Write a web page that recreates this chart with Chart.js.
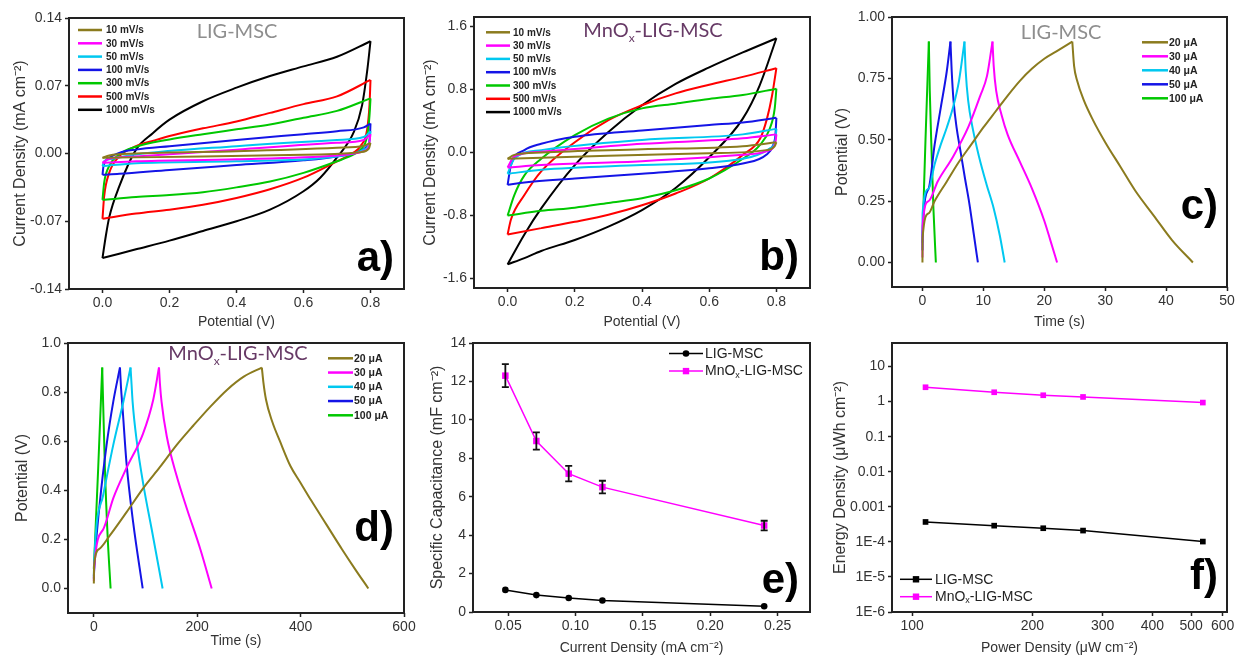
<!DOCTYPE html>
<html>
<head>
<meta charset="utf-8">
<script src="https://cdn.jsdelivr.net/npm/chart.js@4.4.0/dist/chart.umd.min.js"></script>
<style>
  html, body { margin: 0; padding: 0; background: #fff; }
  #wrap { position: relative; width: 1235px; height: 657px; overflow: hidden; }
  #wrap canvas { position: absolute; left: 0; top: 0; }
</style>
</head>
<body>
<div id="wrap">
  <canvas id="chartA" width="1235" height="657"></canvas>
  <canvas id="chartB" width="1235" height="657"></canvas>
  <canvas id="chartC" width="1235" height="657"></canvas>
  <canvas id="chartD" width="1235" height="657"></canvas>
  <canvas id="chartE" width="1235" height="657"></canvas>
  <canvas id="chartF" width="1235" height="657"></canvas>
</div>
<script>
// ---------------------------------------------------------------
// 1. Data
// ---------------------------------------------------------------
const scanRates = ['10 mV/s', '30 mV/s', '50 mV/s', '100 mV/s', '300 mV/s', '500 mV/s', '1000 mV/s'];
const gcdCurrents = ['20 μA', '30 μA', '40 μA', '50 μA', '100 μA'];
const seriesNames = ['LIG-MSC', 'MnO_x-LIG-MSC'];

// a) LIG-MSC CV loops: upper (anodic) and lower (cathodic) branch, [V, mA cm-2]
const ligCv10Up = [[0,-0.0045],[0.02,-0.002],[0.1,0],[0.4,0.0024],[0.7,0.006],[0.78,0.008],[0.8,0.011]];
const ligCv10Down = [[0,-0.0045],[0.3,-0.003],[0.6,-0.0014],[0.77,0.0014],[0.795,0.005],[0.8,0.011]];
const ligCv30Up = [[0,-0.0096],[0.02,-0.0055],[0.1,-0.003],[0.4,0.004],[0.7,0.011],[0.78,0.014],[0.8,0.02]];
const ligCv30Down = [[0,-0.0096],[0.1,-0.008],[0.4,-0.006],[0.7,-0.002],[0.78,0.0024],[0.795,0.008],[0.8,0.02]];
const ligCv50Up = [[0,-0.013],[0.005,-0.008],[0.02,-0.006],[0.1,-0.001],[0.4,0.0076],[0.7,0.014],[0.78,0.017],[0.8,0.023]];
const ligCv50Down = [[0,-0.013],[0.1,-0.01],[0.4,-0.008],[0.7,-0.003],[0.78,0.004],[0.795,0.01],[0.8,0.023]];
const ligCv100Up = [[0,-0.022],[0.003,-0.013],[0.02,-0.0045],[0.05,0.0007],[0.1,0.004],[0.2,0.0076],[0.4,0.014],[0.6,0.02],[0.7,0.023],[0.78,0.027],[0.8,0.031]];
const ligCv100Down = [[0,-0.022],[0.05,-0.021],[0.2,-0.017],[0.4,-0.012],[0.6,-0.007],[0.7,-0.003],[0.77,0.0024],[0.79,0.0076],[0.798,0.016],[0.8,0.031]];
const ligCv300Up = [[0,-0.048],[0.005,-0.03],[0.02,-0.013],[0.05,-0.001],[0.1,0.007],[0.2,0.0145],[0.3,0.02],[0.4,0.025],[0.5,0.03],[0.6,0.037],[0.7,0.044],[0.8,0.057]];
const ligCv300Down = [[0,-0.048],[0.1,-0.045],[0.2,-0.043],[0.3,-0.04],[0.4,-0.035],[0.5,-0.029],[0.6,-0.02],[0.7,-0.008],[0.75,-0.001],[0.77,0.004],[0.79,0.018],[0.797,0.039],[0.8,0.057]];
const ligCv500Up = [[0,-0.0674],[0.005,-0.044],[0.02,-0.02],[0.05,-0.003],[0.1,0.0076],[0.15,0.013],[0.2,0.018],[0.3,0.026],[0.4,0.033],[0.5,0.042],[0.6,0.051],[0.7,0.059],[0.8,0.076]];
const ligCv500Down = [[0,-0.0674],[0.1,-0.062],[0.2,-0.058],[0.3,-0.053],[0.4,-0.046],[0.5,-0.037],[0.6,-0.025],[0.7,-0.008],[0.75,0.001],[0.77,0.0076],[0.79,0.025],[0.797,0.05],[0.8,0.076]];
const ligCv1000Up = [[0,-0.108],[0.01,-0.085],[0.02,-0.066],[0.05,-0.034],[0.1,0.004],[0.15,0.021],[0.2,0.035],[0.3,0.054],[0.4,0.068],[0.5,0.08],[0.6,0.09],[0.7,0.1],[0.8,0.116]];
const ligCv1000Down = [[0,-0.108],[0.1,-0.099],[0.2,-0.09],[0.3,-0.08],[0.4,-0.07],[0.5,-0.058],[0.6,-0.039],[0.65,-0.025],[0.7,-0.004],[0.75,0.022],[0.775,0.05],[0.79,0.085],[0.8,0.116]];

// b) MnOx-LIG-MSC CV loops
const mnCv10Up = [[0,-0.08],[0.02,-0.03],[0.1,0],[0.4,0.04],[0.7,0.08],[0.8,0.13]];
const mnCv10Down = [[0,-0.08],[0.3,-0.04],[0.6,-0.01],[0.77,0.03],[0.795,0.08],[0.8,0.13]];
const mnCv30Up = [[0,-0.19],[0.02,-0.05],[0.1,0.01],[0.4,0.11],[0.7,0.18],[0.8,0.23]];
const mnCv30Down = [[0,-0.19],[0.1,-0.16],[0.4,-0.11],[0.7,-0.03],[0.78,0.03],[0.797,0.13],[0.8,0.23]];
const mnCv50Up = [[0,-0.27],[0.02,-0.08],[0.1,0.03],[0.4,0.16],[0.7,0.23],[0.8,0.3]];
const mnCv50Down = [[0,-0.27],[0.1,-0.22],[0.4,-0.16],[0.7,-0.08],[0.78,0.05],[0.797,0.16],[0.8,0.3]];
const mnCv100Up = [[0,-0.41],[0.01,-0.16],[0.05,0.03],[0.1,0.11],[0.2,0.2],[0.4,0.28],[0.6,0.35],[0.7,0.38],[0.8,0.44]];
const mnCv100Down = [[0,-0.41],[0.05,-0.38],[0.2,-0.33],[0.4,-0.27],[0.6,-0.2],[0.7,-0.14],[0.77,-0.03],[0.79,0.09],[0.797,0.22],[0.8,0.44]];
const mnCv300Up = [[0,-0.8],[0.02,-0.54],[0.05,-0.29],[0.1,-0.08],[0.2,0.22],[0.3,0.43],[0.4,0.56],[0.5,0.62],[0.6,0.68],[0.7,0.73],[0.8,0.81]];
const mnCv300Down = [[0,-0.8],[0.1,-0.74],[0.2,-0.7],[0.3,-0.64],[0.4,-0.58],[0.5,-0.48],[0.6,-0.33],[0.7,-0.08],[0.75,0.09],[0.78,0.3],[0.795,0.56],[0.8,0.81]];
const mnCv500Up = [[0,-1.04],[0.01,-0.85],[0.05,-0.54],[0.1,-0.24],[0.2,0.13],[0.3,0.41],[0.4,0.6],[0.5,0.75],[0.6,0.86],[0.7,0.96],[0.8,1.07]];
const mnCv500Down = [[0,-1.04],[0.1,-0.96],[0.2,-0.88],[0.3,-0.79],[0.4,-0.67],[0.5,-0.52],[0.6,-0.33],[0.7,-0.03],[0.752,0.18],[0.772,0.43],[0.787,0.72],[0.8,1.07]];
const mnCv1000Up = [[0,-1.42],[0.05,-1.04],[0.1,-0.71],[0.2,-0.16],[0.3,0.26],[0.4,0.6],[0.5,0.87],[0.6,1.08],[0.7,1.27],[0.8,1.45]];
const mnCv1000Down = [[0,-1.42],[0.05,-1.34],[0.1,-1.25],[0.2,-1.11],[0.3,-0.94],[0.4,-0.73],[0.5,-0.45],[0.6,-0.06],[0.7,0.43],[0.75,0.85],[0.8,1.45]];

// c) LIG-MSC charge / discharge, [s, V]
const ligGcd20Charge = [[0,0],[0.02,0.1],[1,0.2],[2,0.25],[4,0.33],[6,0.41],[8,0.48],[10,0.55],[12,0.615],[14,0.68],[16,0.74],[18,0.79],[20,0.83],[22,0.86],[24.6,0.9]];
const ligGcd20Discharge = [[24.6,0.9],[24.9,0.8],[25.4,0.74],[26.5,0.66],[28,0.58],[30,0.49],[32.5,0.39],[35,0.29],[38,0.19],[41,0.09],[44.4,0]];
const ligGcd30Charge = [[0,0.02],[0.02,0.15],[1,0.25],[2.5,0.33],[5,0.43],[7.5,0.55],[9.5,0.68],[10.6,0.76],[11.5,0.9]];
const ligGcd30Discharge = [[11.5,0.9],[11.7,0.8],[12.1,0.7],[13,0.6],[14,0.52],[16,0.41],[18,0.3],[20,0.17],[21,0.09],[22.1,0]];
const ligGcd40Charge = [[0,0.05],[0.02,0.2],[1,0.3],[2,0.4],[3,0.48],[4,0.55],[5,0.63],[6,0.74],[6.9,0.9]];
const ligGcd40Discharge = [[6.9,0.9],[7.1,0.78],[7.5,0.66],[8.3,0.54],[9.3,0.43],[10.5,0.32],[11.7,0.22],[12.7,0.11],[13.5,0]];
const ligGcd50Charge = [[0,0.05],[0.02,0.12],[1,0.3],[2,0.48],[3,0.63],[4,0.78],[4.6,0.9]];
const ligGcd50Discharge = [[4.6,0.9],[4.8,0.78],[5.1,0.66],[5.6,0.55],[6.2,0.46],[7,0.34],[7.7,0.24],[8.4,0.12],[9.1,0]];
const ligGcd100Charge = [[0,0.08],[0.25,0.3],[0.5,0.5],[0.8,0.72],[1.05,0.9]];
const ligGcd100Discharge = [[1.05,0.9],[1.2,0.7],[1.5,0.45],[1.8,0.22],[2.2,0]];

// d) MnOx-LIG-MSC charge / discharge
const mnGcd20Charge = [[0,0.02],[0.5,0.094],[10,0.16],[31,0.216],[63,0.31],[96,0.41],[128,0.495],[160,0.584],[193,0.665],[225,0.74],[258,0.81],[290,0.863],[325,0.9]];
const mnGcd20Discharge = [[325,0.9],[328,0.84],[333,0.77],[345,0.68],[360,0.6],[380,0.5],[400,0.43],[420,0.36],[450,0.26],[480,0.16],[505,0.08],[531,0]];
const mnGcd30Charge = [[0,0.03],[0.5,0.08],[18,0.24],[38,0.37],[63,0.49],[95,0.63],[115,0.77],[126,0.9]];
const mnGcd30Discharge = [[126,0.9],[128,0.83],[131,0.76],[141,0.62],[160,0.46],[180,0.325],[206,0.16],[228,0]];
const mnGcd40Charge = [[0,0.05],[0.5,0.1],[18,0.38],[37.5,0.584],[57,0.76],[71,0.9]];
const mnGcd40Discharge = [[71,0.9],[73,0.83],[75,0.76],[83,0.6],[96,0.42],[112,0.24],[133,0]];
const mnGcd50Charge = [[0,0.04],[0.5,0.07],[11.6,0.35],[24.6,0.584],[37.5,0.76],[50.5,0.9]];
const mnGcd50Discharge = [[50.5,0.9],[52.5,0.82],[55.6,0.733],[63,0.516],[76,0.27],[94.5,0]];
const mnGcd100Charge = [[0,0.08],[8.4,0.49],[16.2,0.9]];
const mnGcd100Discharge = [[16.2,0.9],[21.4,0.49],[26.5,0.22],[32.4,0]];

// e) specific capacitance vs current density
const capCurrent = [0.048, 0.071, 0.095, 0.12, 0.24];
const capLig = [1.15, 0.88, 0.73, 0.6, 0.3];
const capMnOx = [12.3, 8.9, 7.2, 6.5, 4.5];
const capMnOxErr = [0.6, 0.45, 0.4, 0.33, 0.25];

// f) Ragone plot
const ragonePower = [108, 160.5, 213, 268, 535];
const ragoneLig = [3.7e-4, 2.9e-4, 2.45e-4, 2.1e-4, 1.02e-4];
const ragoneMnOx = [2.57, 1.85, 1.52, 1.36, 0.94];

// tick values and labels
const cvXTicks = [0, 0.2, 0.4, 0.6, 0.8];
const cvXLabels = ['0.0', '0.2', '0.4', '0.6', '0.8'];
const ligCvYTicks = [-0.14, -0.07, 0, 0.07, 0.14];
const ligCvYLabels = ['-0.14', '-0.07', '0.00', '0.07', '0.14'];
const mnCvYTicks = [-1.6, -0.8, 0, 0.8, 1.6];
const mnCvYLabels = ['-1.6', '-0.8', '0.0', '0.8', '1.6'];
const ligGcdXTicks = [0, 10, 20, 30, 40, 50];
const ligGcdXLabels = ['0', '10', '20', '30', '40', '50'];
const ligGcdYTicks = [0, 0.25, 0.5, 0.75, 1];
const ligGcdYLabels = ['0.00', '0.25', '0.50', '0.75', '1.00'];
const mnGcdXTicks = [0, 200, 400, 600];
const mnGcdXLabels = ['0', '200', '400', '600'];
const mnGcdYTicks = [0, 0.2, 0.4, 0.6, 0.8, 1];
const mnGcdYLabels = ['0.0', '0.2', '0.4', '0.6', '0.8', '1.0'];
const capXTicks = [0.05, 0.1, 0.15, 0.2, 0.25];
const capXLabels = ['0.05', '0.10', '0.15', '0.20', '0.25'];
const capYTicks = [0, 2, 4, 6, 8, 10, 12, 14];
const capYLabels = ['0', '2', '4', '6', '8', '10', '12', '14'];
const ragoneXTicks = [100, 200, 300, 400, 500, 600];
const ragoneXLabels = ['100', '200', '300', '400', '500', '600'];
const ragoneYTicks = [1e-6, 1e-5, 1e-4, 1e-3, 0.01, 0.1, 1, 10];
const ragoneYLabels = ['1E-6', '1E-5', '1E-4', '0.001', '0.01', '0.1', '1', '10'];

// ---------------------------------------------------------------
// 2. Styles
// ---------------------------------------------------------------
const W = 1235, H = 657;
const FONT = '"Liberation Sans", Arial, sans-serif';
const TITLE_FONT = 'Lato, "Open Sans", sans-serif';
const cvColors = ['#8B7B1E', '#FF00FF', '#00C8F0', '#1414E6', '#00C800', '#FF0000', '#000000'];
const gcdColors = ['#8B7B1E', '#FF00FF', '#00C8F0', '#1414E6', '#00C800'];
const GREY_TITLE = '#8e8e8e';
const PURPLE_TITLE = '#673a66';
const MAGENTA = '#FF00FF';

Chart.defaults.font.family = FONT;

// "MnO_x" -> [['MnO', false], ['x', true]]
function parseRich(text) {
  const parts = [];
  const bits = text.split('_');
  parts.push([bits[0], false]);
  for (let i = 1; i < bits.length; i++) {
    parts.push([bits[i].charAt(0), true]);
    if (bits[i].length > 1) parts.push([bits[i].slice(1), false]);
  }
  return parts;
}

function drawRich(ctx, text, x, y, size, family, weight, color, align) {
  const parts = parseRich(text);
  const big = weight + ' ' + size + 'px ' + family;
  const small = weight + ' ' + Math.round(size * 0.62) + 'px ' + family;
  let total = 0;
  parts.forEach(p => { ctx.font = p[1] ? small : big; total += ctx.measureText(p[0]).width; });
  let cx = align === 'center' ? x - total / 2 : x;
  ctx.fillStyle = color;
  ctx.textAlign = 'left';
  parts.forEach(p => {
    ctx.font = p[1] ? small : big;
    ctx.fillText(p[0], cx, y + (p[1] ? size * 0.25 : 0));
    cx += ctx.measureText(p[0]).width;
  });
}

// frame, in-plot title, legend, panel letter, error bars
const panelDeco = {
  id: 'panelDeco',
  afterDatasetsDraw(chart, args, opts) {
    if (!opts.errors) return;
    const ctx = chart.ctx, xs = chart.scales.x, ys = chart.scales.y;
    ctx.save();
    ctx.strokeStyle = '#111';
    ctx.lineWidth = 1.8;
    opts.errors.x.forEach((xv, i) => {
      const px = xs.getPixelForValue(xv);
      const top = ys.getPixelForValue(opts.errors.y[i] + opts.errors.err[i]);
      const bot = ys.getPixelForValue(opts.errors.y[i] - opts.errors.err[i]);
      ctx.beginPath();
      ctx.moveTo(px, top); ctx.lineTo(px, bot);
      ctx.moveTo(px - 3.5, top); ctx.lineTo(px + 3.5, top);
      ctx.moveTo(px - 3.5, bot); ctx.lineTo(px + 3.5, bot);
      ctx.stroke();
    });
    ctx.restore();
  },
  afterDraw(chart, args, opts) {
    const ctx = chart.ctx, a = chart.chartArea;
    ctx.save();
    ctx.strokeStyle = '#222';
    ctx.lineWidth = 2;
    ctx.strokeRect(a.left, a.top, a.right - a.left, a.bottom - a.top);

    ctx.textBaseline = 'alphabetic';
    if (opts.title) {
      drawRich(ctx, opts.title.text, opts.title.x, opts.title.y, 20, TITLE_FONT, 'normal', opts.title.color, 'center');
    }

    const lg = opts.legend;
    if (lg) {
      lg.labels.forEach((label, i) => {
        const y = lg.y + i * lg.dy;
        ctx.strokeStyle = lg.colors[i];
        ctx.lineWidth = lg.lineWidth;
        ctx.beginPath();
        ctx.moveTo(lg.x, y); ctx.lineTo(lg.x + lg.len, y);
        ctx.stroke();
        const m = lg.markers ? lg.markers[i] : null;
        const mx = lg.x + lg.len / 2;
        ctx.fillStyle = lg.colors[i];
        if (m === 'circle') {
          ctx.beginPath(); ctx.arc(mx, y, 3.3, 0, Math.PI * 2); ctx.fill();
        } else if (m === 'rect') {
          ctx.fillRect(mx - 3.2, y - 3.2, 6.4, 6.4);
        }
        ctx.textBaseline = 'middle';
        drawRich(ctx, label, lg.x + lg.len + lg.gap, y + 0.5, lg.size, FONT, lg.weight, '#222', 'left');
        ctx.textBaseline = 'alphabetic';
      });
    }

    if (opts.letter) {
      ctx.font = 'bold 42px ' + FONT;
      ctx.fillStyle = '#000';
      ctx.textAlign = 'right';
      ctx.fillText(opts.letter.text, opts.letter.x, opts.letter.y);
    }
    ctx.restore();
  }
};

// ---------------------------------------------------------------
// 3. Builders
// ---------------------------------------------------------------
function axis(o) {
  return {
    type: o.type || 'linear',
    position: o.position,
    min: o.min,
    max: o.max,
    grid: { display: true, drawOnChartArea: false, drawTicks: true, tickLength: 4, tickWidth: 1.5, tickColor: '#222' },
    border: { display: false },
    ticks: {
      color: '#333',
      font: { size: 14 },
      padding: o.position === 'left' ? 3 : 2,
      autoSkip: false,
      maxRotation: 0,
      callback: (v, i) => o.labels[i]
    },
    title: { display: true, text: o.title, color: '#333', font: { size: o.titleSize }, padding: 0 },
    afterBuildTicks: s => { s.ticks = o.ticks.map(v => ({ value: v })); },
    afterFit: s => {
      if (o.position === 'left') s.width = o.size; else s.height = o.size;
      s.paddingLeft = s.paddingRight = s.paddingTop = s.paddingBottom = 0;
    }
  };
}

function curve(points, color) {
  return {
    data: points,
    borderColor: color,
    borderWidth: 2,
    pointRadius: 0,
    fill: false,
    cubicInterpolationMode: 'monotone'
  };
}

function makePanel(id, datasets, p) {
  const [l, t, r, b] = p.area;
  const yW = l - (p.yTitleX - 16 * 1.2 / 2);
  const xH = (p.xTitleY + 14 * 1.2 / 2) - b;
  return new Chart(document.getElementById(id), {
    type: 'line',
    data: { datasets: datasets },
    options: {
      responsive: false,
      animation: false,
      events: [],
      layout: { padding: { left: l - yW, top: t, right: W - r, bottom: H - b - xH } },
      scales: {
        x: axis(Object.assign({ position: 'bottom', size: xH, titleSize: 14 }, p.x)),
        y: axis(Object.assign({ position: 'left', size: yW, titleSize: 16 }, p.y))
      },
      plugins: { legend: { display: false }, tooltip: { enabled: false }, panelDeco: p.deco }
    },
    plugins: [panelDeco]
  });
}

function pairSets(firsts, seconds, colors) {
  const sets = [];
  firsts.forEach((f, i) => {
    sets.push(curve(f, colors[i]));
    sets.push(curve(seconds[i], colors[i]));
  });
  return sets;
}

// ---------------------------------------------------------------
// 4. Panels
// ---------------------------------------------------------------
makePanel('chartA',
  pairSets([ligCv10Up, ligCv30Up, ligCv50Up, ligCv100Up, ligCv300Up, ligCv500Up, ligCv1000Up],
           [ligCv10Down, ligCv30Down, ligCv50Down, ligCv100Down, ligCv300Down, ligCv500Down, ligCv1000Down], cvColors),
  {
    area: [69, 18, 404, 289], yTitleX: 21, xTitleY: 322,
    x: { min: -0.1, max: 0.9, ticks: cvXTicks, labels: cvXLabels, title: 'Potential (V)' },
    y: { min: -0.14, max: 0.14, ticks: ligCvYTicks, labels: ligCvYLabels, title: 'Current Density (mA cm⁻²)' },
    deco: {
      title: { text: seriesNames[0], x: 237, y: 38, color: GREY_TITLE },
      legend: { labels: scanRates, colors: cvColors, x: 78, y: 30, dy: 13.3, len: 24, gap: 4, size: 10, weight: 'bold', lineWidth: 2.5 },
      letter: { text: 'a)', x: 394, y: 271 }
    }
  });

makePanel('chartB',
  pairSets([mnCv10Up, mnCv30Up, mnCv50Up, mnCv100Up, mnCv300Up, mnCv500Up, mnCv1000Up],
           [mnCv10Down, mnCv30Down, mnCv50Down, mnCv100Down, mnCv300Down, mnCv500Down, mnCv1000Down], cvColors),
  {
    area: [474, 17, 810, 288], yTitleX: 431, xTitleY: 322,
    x: { min: -0.1, max: 0.9, ticks: cvXTicks, labels: cvXLabels, title: 'Potential (V)' },
    y: { min: -1.72, max: 1.72, ticks: mnCvYTicks, labels: mnCvYLabels, title: 'Current Density (mA cm⁻²)' },
    deco: {
      title: { text: seriesNames[1], x: 653, y: 37, color: PURPLE_TITLE },
      legend: { labels: scanRates, colors: cvColors, x: 486, y: 32.3, dy: 13.3, len: 24, gap: 3, size: 10, weight: 'bold', lineWidth: 2.5 },
      letter: { text: 'b)', x: 799, y: 270 }
    }
  });

makePanel('chartC',
  pairSets([ligGcd20Charge, ligGcd30Charge, ligGcd40Charge, ligGcd50Charge, ligGcd100Charge],
           [ligGcd20Discharge, ligGcd30Discharge, ligGcd40Discharge, ligGcd50Discharge, ligGcd100Discharge], gcdColors),
  {
    area: [892, 17, 1227, 287], yTitleX: 843, xTitleY: 322,
    x: { min: -5, max: 50, ticks: ligGcdXTicks, labels: ligGcdXLabels, title: 'Time (s)' },
    y: { min: -0.1, max: 1.0, ticks: ligGcdYTicks, labels: ligGcdYLabels, title: 'Potential (V)' },
    deco: {
      title: { text: seriesNames[0], x: 1061, y: 38.5, color: GREY_TITLE },
      legend: { labels: gcdCurrents, colors: gcdColors, x: 1142, y: 42.3, dy: 14, len: 26, gap: 1, size: 10.5, weight: 'bold', lineWidth: 2.5 },
      letter: { text: 'c)', x: 1218, y: 219 }
    }
  });

makePanel('chartD',
  pairSets([mnGcd20Charge, mnGcd30Charge, mnGcd40Charge, mnGcd50Charge, mnGcd100Charge],
           [mnGcd20Discharge, mnGcd30Discharge, mnGcd40Discharge, mnGcd50Discharge, mnGcd100Discharge], gcdColors),
  {
    area: [68, 343, 404, 613], yTitleX: 23, xTitleY: 641,
    x: { min: -50, max: 600, ticks: mnGcdXTicks, labels: mnGcdXLabels, title: 'Time (s)' },
    y: { min: -0.1, max: 1.0, ticks: mnGcdYTicks, labels: mnGcdYLabels, title: 'Potential (V)' },
    deco: {
      title: { text: seriesNames[1], x: 238, y: 360, color: PURPLE_TITLE },
      legend: { labels: gcdCurrents, colors: gcdColors, x: 328, y: 358.3, dy: 14.25, len: 25, gap: 1, size: 10.5, weight: 'bold', lineWidth: 2.5 },
      letter: { text: 'd)', x: 394, y: 541 }
    }
  });

makePanel('chartE', [
    {
      data: capCurrent.map((x, i) => [x, capLig[i]]),
      borderColor: '#000', borderWidth: 1.5, pointStyle: 'circle', pointRadius: 3.3,
      pointBackgroundColor: '#000', pointBorderWidth: 0, fill: false
    },
    {
      data: capCurrent.map((x, i) => [x, capMnOx[i]]),
      borderColor: MAGENTA, borderWidth: 1.5, pointStyle: 'rect', pointRadius: 4.6,
      pointBackgroundColor: MAGENTA, pointBorderWidth: 0, fill: false
    }
  ],
  {
    area: [473, 343, 810, 612], yTitleX: 438, xTitleY: 648,
    x: { min: 0.024, max: 0.274, ticks: capXTicks, labels: capXLabels, title: 'Current Density (mA cm⁻²)' },
    y: { min: 0, max: 14, ticks: capYTicks, labels: capYLabels, title: 'Specific Capacitance (mF cm⁻²)' },
    deco: {
      errors: { x: capCurrent, y: capMnOx, err: capMnOxErr },
      legend: { labels: seriesNames, colors: ['#000', MAGENTA], markers: ['circle', 'rect'], x: 669, y: 353.5, dy: 17.6, len: 34, gap: 2, size: 14, weight: 'normal', lineWidth: 1.5 },
      letter: { text: 'e)', x: 799, y: 593 }
    }
  });

makePanel('chartF', [
    {
      data: ragonePower.map((x, i) => [x, ragoneLig[i]]),
      borderColor: '#000', borderWidth: 1.5, pointStyle: 'rect', pointRadius: 4,
      pointBackgroundColor: '#000', pointBorderWidth: 0, fill: false
    },
    {
      data: ragonePower.map((x, i) => [x, ragoneMnOx[i]]),
      borderColor: MAGENTA, borderWidth: 1.5, pointStyle: 'rect', pointRadius: 4,
      pointBackgroundColor: MAGENTA, pointBorderWidth: 0, fill: false
    }
  ],
  {
    area: [892, 343, 1227, 612], yTitleX: 841, xTitleY: 648,
    x: { type: 'logarithmic', min: 89, max: 615, ticks: ragoneXTicks, labels: ragoneXLabels, title: 'Power Density (μW cm⁻²)' },
    y: { type: 'logarithmic', min: 1e-6, max: 47, ticks: ragoneYTicks, labels: ragoneYLabels, title: 'Energy Density (μWh cm⁻²)' },
    deco: {
      legend: { labels: seriesNames, colors: ['#000', MAGENTA], markers: ['rect', 'rect'], x: 900, y: 579.3, dy: 17.4, len: 32, gap: 3, size: 14, weight: 'normal', lineWidth: 1.5 },
      letter: { text: 'f)', x: 1218, y: 589 }
    }
  });
</script>
</body>
</html>
